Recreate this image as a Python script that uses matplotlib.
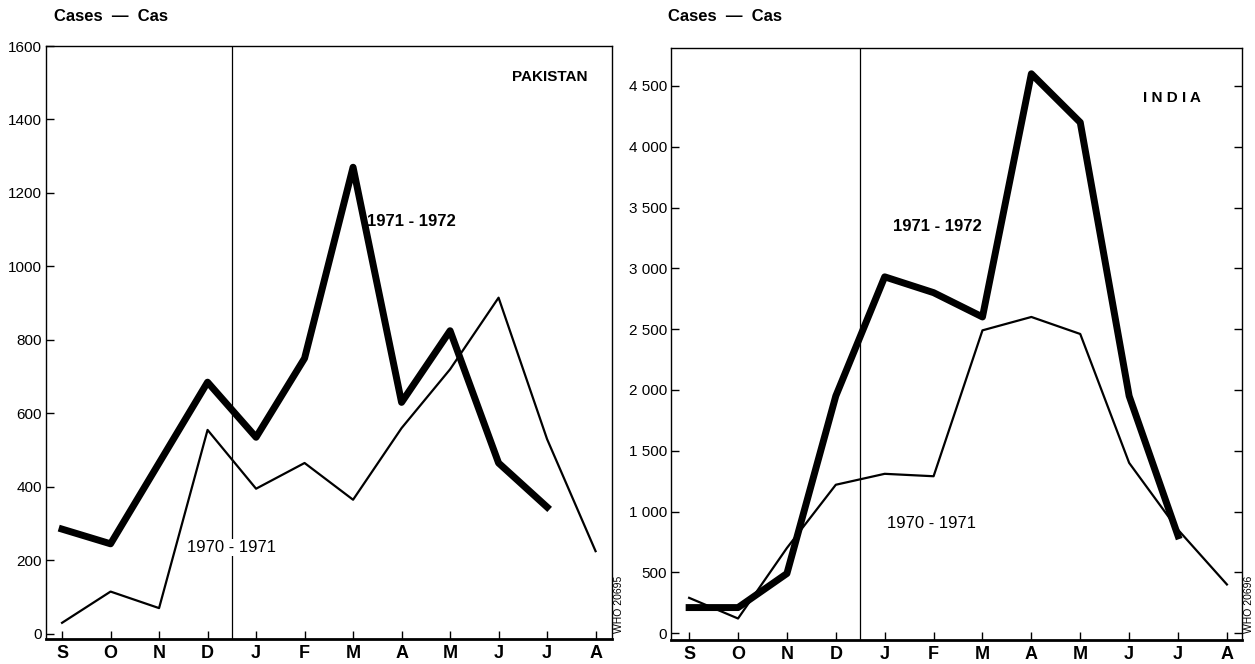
import numpy as np
import matplotlib.pyplot as plt

plt.rcParams['font.family'] = ['Liberation Sans', 'DejaVu Sans']

months = ["S", "O", "N", "D", "J", "F", "M", "A", "M", "J", "J", "A"]

# Pakistan
pak_7071 = [30, 115, 70, 555, 395, 465, 365, 560, 720, 915, 530, 225]
pak_7172 = [285, 245, 465, 685, 535, 750, 1270, 630, 825, 465, 345]
pak_ticks = [0, 200, 400, 600, 800, 1000, 1200, 1400, 1600]

# India
ind_7071 = [290, 120, 700, 1220, 1310, 1290, 2490, 2600, 2460, 1400, 850, 400]
ind_7172 = [210, 210, 490, 1950, 2930, 2800, 2600, 4600, 4200, 1950, 800]
ind_ticks = [0, 500, 1000, 1500, 2000, 2500, 3000, 3500, 4000, 4500]
ind_ticklabels = ["0", "500", "1 000", "1 500", "2 000", "2 500",
                  "3 000", "3 500", "4 000", "4 500"]

fig = plt.figure(figsize=(12.55, 6.64), dpi=100)
ax1 = fig.add_axes([0.0367, 0.0377, 0.451, 0.893])
ax2 = fig.add_axes([0.5347, 0.0361, 0.455, 0.8916])


def style(ax, xlim, ylim):
    ax.set_xlim(*xlim)
    ax.set_ylim(*ylim)
    ax.set_xticks(range(len(months)))
    ax.set_xticklabels(months, fontsize=13, fontweight="bold")
    ax.tick_params(axis="x", direction="in", length=6, width=1, pad=4)
    ax.tick_params(axis="y", direction="in", length=6, width=1, pad=3, labelsize=11)
    for s in ax.spines.values():
        s.set_linewidth(1.0)
    ax.spines["bottom"].set_linewidth(2.0)
    ax.axvline(3.5, color="black", lw=0.9)


# left panel
x = np.arange(12)
ax1.plot(x[:len(pak_7071)], pak_7071, color="black", lw=1.6)
ax1.plot(x[:len(pak_7172)], pak_7172, color="black", lw=5)
style(ax1, (-0.33, 11.34), (-14, 1600))
ax1.set_yticks(pak_ticks)
ax1.text(10.06, 1516, "PAKISTAN", fontsize=11, fontweight="bold",
         ha="center", va="center")
ax1.text(6.29, 1121, "1971 - 1972", fontsize=12, fontweight="bold",
         ha="left", va="center")
ax1.text(2.58, 235, "1970 - 1971", fontsize=12, ha="left", va="center",
         bbox=dict(facecolor="white", edgecolor="none", pad=0.5))
fig.text(0.043, 0.975, "Cases  \u2014  Cas", fontsize=12, fontweight="bold",
         ha="left", va="center")
fig.text(0.4935, 0.09, "WHO 20695", fontsize=7.5, rotation=90,
         ha="center", va="center")

# right panel
ax2.plot(x[:len(ind_7071)], ind_7071, color="black", lw=1.6)
ax2.plot(x[:len(ind_7172)], ind_7172, color="black", lw=5)
style(ax2, (-0.37, 11.31), (-57, 4812))
ax2.set_yticks(ind_ticks)
ax2.set_yticklabels(ind_ticklabels)
ax2.tick_params(axis="y", right=True)
ax2.text(9.88, 4400, "I N D I A", fontsize=11, fontweight="bold",
         ha="center", va="center")
ax2.text(5.07, 3340, "1971 - 1972", fontsize=12, fontweight="bold",
         ha="center", va="center")
ax2.text(4.95, 900, "1970 - 1971", fontsize=12, ha="center", va="center")
fig.text(0.532, 0.975, "Cases  \u2014  Cas", fontsize=12, fontweight="bold",
         ha="left", va="center")
fig.text(0.9955, 0.09, "WHO 20696", fontsize=7.5, rotation=90,
         ha="center", va="center")

fig.savefig("out.png", dpi=100)
